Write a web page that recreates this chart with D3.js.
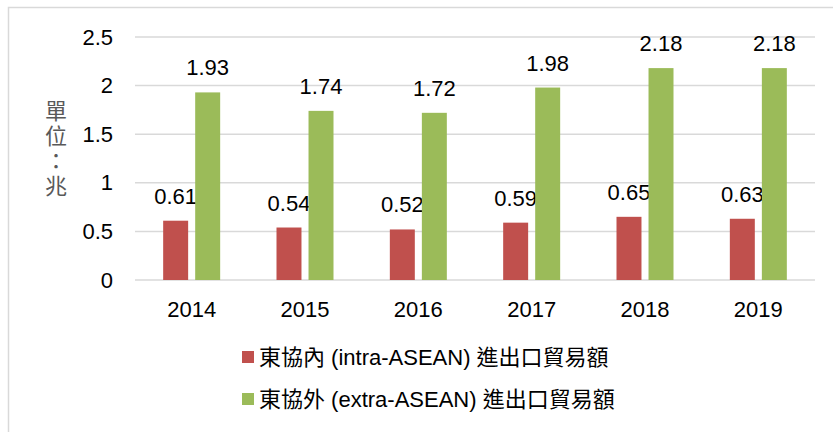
<!DOCTYPE html>
<html>
<head>
<meta charset="utf-8">
<script src="https://cdn.jsdelivr.net/npm/d3@7"></script>
<style>
  body { margin: 0; background: #fff; }
  svg text { font-family: "Liberation Sans", Arial, sans-serif; }
</style>
</head>
<body>
<div id="chart"></div>
<script>
// data
const years = ['2014', '2015', '2016', '2017', '2018', '2019'];
const intraAsean = [0.61, 0.54, 0.52, 0.59, 0.65, 0.63];
const extraAsean = [1.93, 1.74, 1.72, 1.98, 2.18, 2.18];
const yTicks = [0, 0.5, 1, 1.5, 2, 2.5];
const seriesNames = ['東協內 (intra-ASEAN) 進出口貿易額', '東協外 (extra-ASEAN) 進出口貿易額'];
const seriesColors = ['#C0504D', '#9BBB59'];
const unitLabel = '單位：兆';

const W = 833, H = 432;
const plot = { left: 135, right: 815, top: 37, bottom: 280 };
const fontFamily = '"Liberation Sans", Arial, sans-serif';

const svg = d3.select('#chart').append('svg')
  .attr('width', W)
  .attr('height', H);

// outer frame
svg.append('rect')
  .attr('x', 8.5).attr('y', 7.5)
  .attr('width', W + 10).attr('height', H + 10)
  .attr('fill', 'none')
  .attr('stroke', '#d9d9d9')
  .attr('stroke-width', 1.5);

const x0 = d3.scaleBand()
  .domain(years)
  .range([plot.left, plot.right]);

// two bars, 25px wide with a 7px gap, centred in each year
const x1 = d3.scaleBand()
  .domain([0, 1])
  .range([x0.bandwidth() / 2 - 28.5, x0.bandwidth() / 2 + 28.5])
  .paddingInner(0.22);

const y = d3.scaleLinear()
  .domain([0, 2.5])
  .range([plot.bottom, plot.top]);

// gridlines
svg.append('g')
  .selectAll('line')
  .data(yTicks)
  .join('line')
    .attr('x1', plot.left).attr('x2', plot.right)
    .attr('y1', d => y(d)).attr('y2', d => y(d))
    .attr('stroke', '#d9d9d9')
    .attr('stroke-width', 1.5);

// y axis labels
const yAxis = svg.append('g')
  .attr('transform', `translate(${plot.left - 22},0)`)
  .call(d3.axisLeft(y).tickValues(yTicks).tickSize(0).tickPadding(0).tickFormat(d3.format('')));
yAxis.select('.domain').remove();
yAxis.attr('font-size', 22).attr('font-family', fontFamily);
yAxis.selectAll('text').attr('fill', '#000');

// x axis labels
const xAxis = svg.append('g')
  .attr('transform', `translate(0,${plot.bottom + 21})`)
  .call(d3.axisBottom(x0).tickSize(0).tickPadding(0));
xAxis.select('.domain').remove();
xAxis.attr('font-size', 22).attr('font-family', fontFamily);
xAxis.selectAll('text').attr('fill', '#000');

// bars + labels, series by series (later series covers earlier labels)
const series = [intraAsean, extraAsean];
series.forEach((vals, si) => {
  const g = svg.append('g');
  g.selectAll('rect')
    .data(vals)
    .join('rect')
      .attr('x', (d, i) => x0(years[i]) + x1(si))
      .attr('y', d => y(d))
      .attr('width', x1.bandwidth())
      .attr('height', d => y(0) - y(d))
      .attr('fill', seriesColors[si]);
  g.selectAll('text')
    .data(vals)
    .join('text')
      .attr('x', (d, i) => x0(years[i]) + x1(si) + x1.bandwidth() / 2)
      .attr('y', d => y(d) - 17)
      .attr('text-anchor', 'middle')
      .attr('font-size', '22px')
      .attr('fill', '#000')
      .text(d => d3.format('.2f')(d));
});

// unit label, written top to bottom
svg.append('text')
  .attr('x', 56)
  .attr('y', 100)
  .attr('font-size', '22px')
  .attr('fill', '#595959')
  .style('font-family', '"Noto Sans CJK TC", sans-serif')
  .style('writing-mode', 'vertical-rl')
  .style('text-orientation', 'upright')
  .style('letter-spacing', '3px')
  .text(unitLabel);

// legend
const legend = svg.append('g')
  .selectAll('g')
  .data(seriesNames)
  .join('g')
    .attr('transform', (d, i) => `translate(242,${357 + i * 42})`);
legend.append('rect')
  .attr('x', 0).attr('y', -6)
  .attr('width', 12).attr('height', 12)
  .attr('fill', (d, i) => seriesColors[i]);
legend.append('text')
  .attr('x', 17)
  .attr('y', 0)
  .attr('dy', '0.35em')
  .attr('font-size', '22px')
  .attr('fill', '#000')
  .style('font-family', '"Liberation Sans", "Noto Sans CJK TC", sans-serif')
  .text(d => d);
</script>
</body>
</html>
